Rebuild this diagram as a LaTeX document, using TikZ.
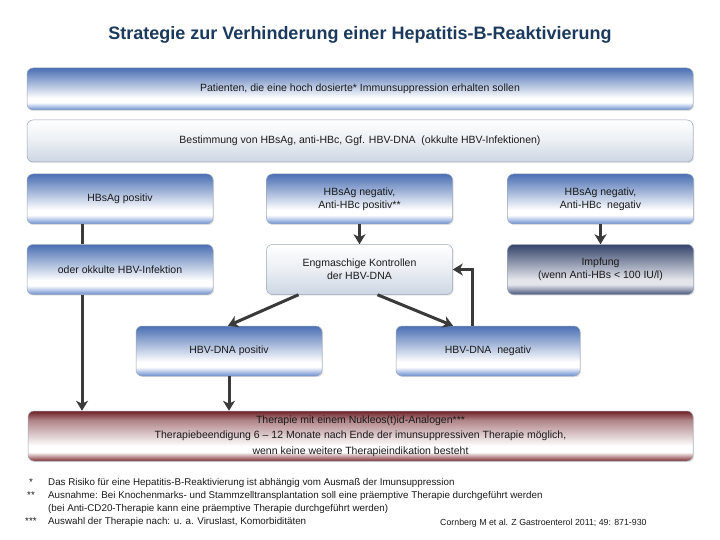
\documentclass[tikz,border=0pt]{standalone}
\usepackage{fontspec}
\setmainfont{Liberation Sans}
\usetikzlibrary{arrows.meta,calc,shadows}
\definecolor{titleBlue}{HTML}{1B3A5E}
\definecolor{inkBlack}{HTML}{1A1A1A}
\definecolor{frameGray}{HTML}{9AA6B8}
\definecolor{arrowGray}{HTML}{3A3A3A}
\definecolor{blueTop}{HTML}{4A6FB3}
\definecolor{blueLow}{HTML}{6A8DD0}
\definecolor{paleLow}{HTML}{CCD5E2}
\definecolor{navyTop}{HTML}{34446A}
\definecolor{navyLow}{HTML}{48547A}
\definecolor{redTop}{HTML}{6E1F25}
\definecolor{redLow}{HTML}{7F2E34}
% the path covers 25bp (bottom) to 75bp (top)
\pgfdeclareverticalshading{blueband}{100bp}{color(0bp)=(blueLow); color(25bp)=(blueLow); color(34bp)=(white); color(39bp)=(white); color(75bp)=(blueTop); color(100bp)=(blueTop)}
\pgfdeclareverticalshading{paleband}{100bp}{color(0bp)=(paleLow); color(25bp)=(paleLow); color(50bp)=(white!60!paleLow); color(75bp)=(white); color(100bp)=(white)}
\pgfdeclareverticalshading{navyband}{100bp}{color(0bp)=(navyLow); color(25bp)=(navyLow); color(35bp)=(white!85!navyLow); color(40bp)=(white!85!navyLow); color(75bp)=(navyTop); color(100bp)=(navyTop)}
\pgfdeclareverticalshading{redband}{100bp}{color(0bp)=(redLow); color(25bp)=(redLow); color(34bp)=(white); color(40bp)=(white); color(66bp)=(white!45!redTop); color(75bp)=(redTop); color(100bp)=(redTop)}
\tikzset{
    stage/.style={rounded corners=6pt,draw=frameGray,line width=0.5pt,
        align=center,text=inkBlack,inner sep=2pt,
        font=\fontsize{10.5}{13}\selectfont,
        drop shadow={shadow xshift=1.2pt,shadow yshift=-1.2pt,opacity=0.2}},
    bluestage/.style={stage,shading=blueband},
    palestage/.style={stage,shading=paleband},
    navystage/.style={stage,shading=navyband},
    redstage/.style={stage,shading=redband},
    wide/.style={minimum width=666pt,minimum height=42pt},
    cell/.style={minimum width=186pt,minimum height=50pt},
    link/.style={draw=arrowGray,line width=3pt},
    arrow/.style={link,-{Stealth[length=10pt,width=12pt,inset=3pt]}},
    note/.style={anchor=base west,inner sep=0pt,text=inkBlack,
        font=\fontsize{9.8}{12}\selectfont}
}
\begin{document}
\begin{tikzpicture}[x=1pt,y=1pt]
    \useasboundingbox[fill=white] (0,0) rectangle (720,-540);

    \node[font=\fontsize{18}{22}\selectfont\bfseries,text=titleBlue] (title) at (360,-35)
        {Strategie zur Verhinderung einer Hepatitis-B-Reaktivierung};

    % top rows
    \node[bluestage,wide] (patients) at (360,-89)
        {Patienten, die eine hoch dosierte* Immunsuppression erhalten sollen};
    \node[palestage,wide] (screening) at (360,-141)
        {Bestimmung von HBsAg, anti-HBc, Ggf. HBV-DNA \ (okkulte HBV-Infektionen)};

    % serology
    \node[bluestage,cell] (hbsagPos) at (120,-199) {HBsAg positiv};
    \node[bluestage,cell] (antiHBcPos) at (359.5,-199) {HBsAg negativ,\\Anti-HBc positiv**};
    \node[bluestage,cell] (bothNeg) at (600.5,-199) {HBsAg negativ,\\Anti-HBc \ negativ};

    \node[bluestage,cell] (occult) at (120,-269.5) {oder okkulte HBV-Infektion};
    \node[palestage,cell] (monitoring) at (359.5,-269.5) {Engmaschige Kontrollen\\der HBV-DNA};
    \node[navystage,cell] (vaccination) at (600.5,-269.5) {Impfung\\(wenn Anti-HBs < 100 IU/l)};

    \node[bluestage,cell] (dnaPos) at (229,-351) {HBV-DNA positiv};
    \node[bluestage,cell,minimum width=184pt] (dnaNeg) at (488,-351) {HBV-DNA \ negativ};

    \node[redstage,minimum width=665pt,minimum height=50pt,
        font=\fontsize{10.5}{15.5}\selectfont] (therapy) at (360.5,-436)
        {Therapie mit einem Nukleos(t)id-Analogen***\\
         Therapiebeendigung 6 -- 12 Monate nach Ende der imunsuppressiven Therapie möglich,\\
         wenn keine weitere Therapieindikation besteht};

    % connectors
    \draw[link] ([xshift=-38pt]hbsagPos.south) -- ([xshift=-38pt]occult.north);
    \draw[arrow] ([xshift=-38pt]occult.south) -- ([xshift=-38pt]occult.south |- therapy.north);
    \draw[arrow] (antiHBcPos.south) -- (monitoring.north);
    \draw[arrow] (bothNeg.south) -- (vaccination.north);
    \draw[arrow] ([xshift=-61pt]monitoring.south) -- ([xshift=-1pt]dnaPos.north);
    \draw[arrow] ([xshift=18pt]monitoring.south) -- ([xshift=-35pt]dnaNeg.north);
    \draw[arrow] ([xshift=-16pt]dnaNeg.north) |- (monitoring.east);
    \draw[arrow] (dnaPos.south) -- (dnaPos.south |- therapy.north);

    % footnotes
    \node[note] (markOne) at (29,-485) {*};
    \node[note] (fnOne) at (48,-485)
        {Das Risiko für eine Hepatitis-B-Reaktivierung ist abhängig vom Ausmaß der Imunsuppression};
    \node[note] (markTwo) at (27,-498) {**};
    \node[note] (fnTwo) at (48,-498)
        {Ausnahme: Bei Knochenmarks- und Stammzelltransplantation soll eine präemptive Therapie durchgeführt werden};
    \node[note] (fnTwoCont) at (48,-511)
        {(bei Anti-CD20-Therapie kann eine präemptive Therapie durchgeführt werden)};
    \node[note] (markThree) at (25,-524) {***};
    \node[note] (fnThree) at (48,-524)
        {Auswahl der Therapie nach: u. a. Viruslast, Komorbiditäten};
    \node[note,font=\fontsize{8.8}{11}\selectfont] (source) at (440,-525)
        {Cornberg M et al. Z Gastroenterol 2011; 49: 871-930};
\end{tikzpicture}
\end{document}
